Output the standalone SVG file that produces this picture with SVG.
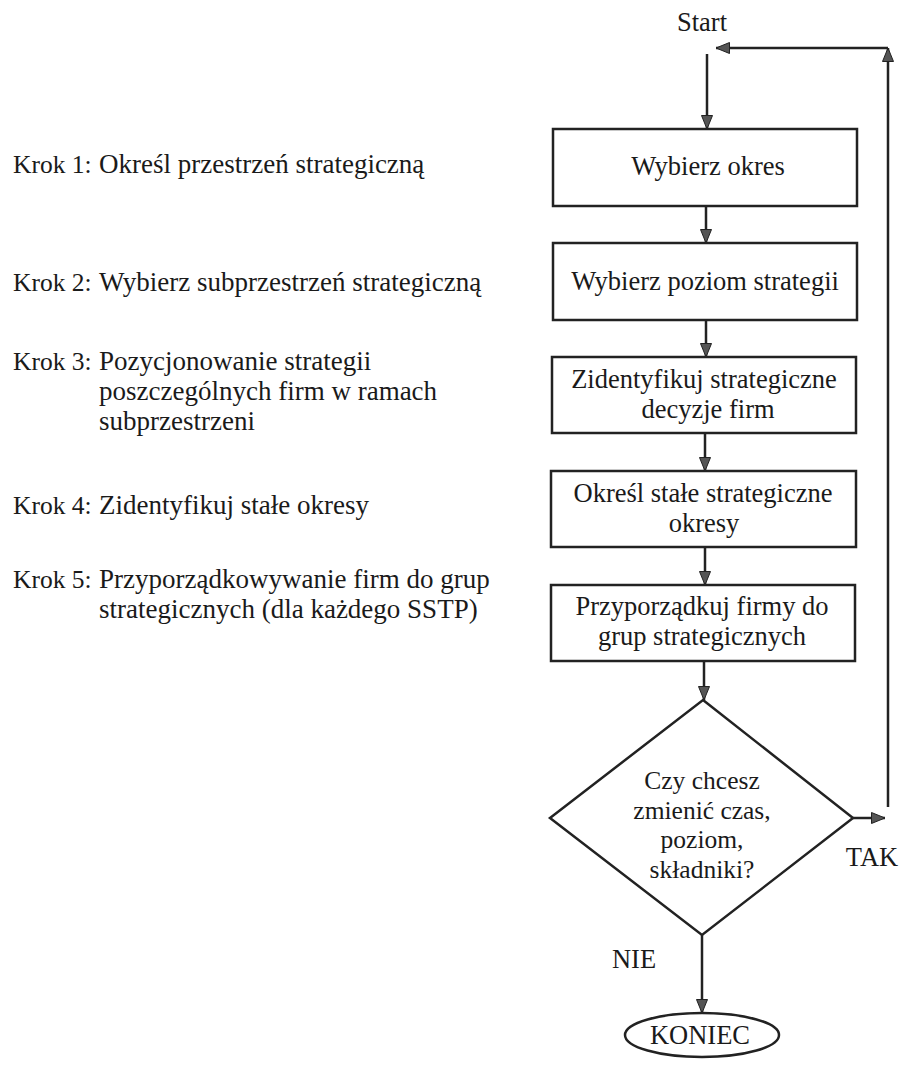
<svg xmlns="http://www.w3.org/2000/svg" width="899" height="1066" viewBox="0 0 899 1066">
<style>
  text { font-family: "Liberation Serif", "Times New Roman", serif; fill: #1a1a1a; }
  .lbl { font-size: 27px; }
  .kr { font-size: 25.5px; }
  .nt { font-size: 26.5px; text-anchor: middle; }
  .dt { font-size: 25.5px; text-anchor: middle; }
  .box { fill: #fff; stroke: #222; stroke-width: 2.5; }
  .conn { fill: none; stroke: #222; stroke-width: 2.5; }
</style>
<defs>
  <marker id="ah" viewBox="0 0 15 12" refX="14" refY="6" markerWidth="15" markerHeight="12" markerUnits="userSpaceOnUse" orient="auto">
    <path d="M0.5,0.5 L14,6 L0.5,11.5 Z" fill="#555" stroke="#222" stroke-width="1"/>
  </marker>
</defs>
<rect width="899" height="1066" fill="#fff"/>

<g id="steps">
  <text class="kr" x="13" y="173">Krok 1:</text>
  <text class="lbl" x="99" y="173">Określ przestrzeń strategiczną</text>
  <text class="kr" x="13" y="291">Krok 2:</text>
  <text class="lbl" x="99" y="291">Wybierz subprzestrzeń strategiczną</text>
  <text class="kr" x="13" y="370">Krok 3:</text>
  <text class="lbl" x="99" y="370">Pozycjonowanie strategii</text>
  <text class="lbl" x="99" y="400">poszczególnych firm w ramach</text>
  <text class="lbl" x="99" y="430">subprzestrzeni</text>
  <text class="kr" x="13" y="514">Krok 4:</text>
  <text class="lbl" x="99" y="514">Zidentyfikuj stałe okresy</text>
  <text class="kr" x="13" y="588">Krok 5:</text>
  <text class="lbl" x="99" y="588">Przyporządkowywanie firm do grup</text>
  <text class="lbl" x="99" y="618">strategicznych (dla każdego SSTP)</text>
</g>

<g id="start">
  <text class="nt" x="702" y="31">Start</text>
</g>

<g id="box1">
  <rect class="box" x="553" y="129" width="304" height="77"/>
  <text class="nt" x="708" y="175">Wybierz okres</text>
</g>
<g id="box2">
  <rect class="box" x="553" y="243" width="304" height="77"/>
  <text class="nt" x="705" y="290">Wybierz poziom strategii</text>
</g>
<g id="box3">
  <rect class="box" x="552" y="357" width="304" height="76"/>
  <text class="nt" x="704" y="388">Zidentyfikuj strategiczne</text>
  <text class="nt" x="708" y="418">decyzje firm</text>
</g>
<g id="box4">
  <rect class="box" x="551" y="471" width="305" height="76"/>
  <text class="nt" x="703" y="502">Określ stałe strategiczne</text>
  <text class="nt" x="704" y="532">okresy</text>
</g>
<g id="box5">
  <rect class="box" x="551" y="585" width="304" height="76"/>
  <text class="nt" x="702" y="615">Przyporządkuj firmy do</text>
  <text class="nt" x="702" y="645">grup strategicznych</text>
</g>

<g id="decision">
  <polygon class="box" points="703,700 853,818 702,935 550,818"/>
  <text class="dt" x="702" y="789">Czy chcesz</text>
  <text class="dt" x="702" y="818.5">zmienić czas,</text>
  <text class="dt" x="702" y="848">poziom,</text>
  <text class="dt" x="702" y="877.5">składniki?</text>
</g>

<g id="end">
  <ellipse class="box" cx="702" cy="1035" rx="77" ry="22"/>
  <text class="nt" x="700" y="1044">KONIEC</text>
</g>

<g id="labels">
  <text class="nt" x="872" y="866">TAK</text>
  <text class="nt" x="634" y="968">NIE</text>
</g>

<g id="connectors">
  <path class="conn" d="M707,54 V129" marker-end="url(#ah)"/>
  <path class="conn" d="M706,206 V243" marker-end="url(#ah)"/>
  <path class="conn" d="M706,320 V357" marker-end="url(#ah)"/>
  <path class="conn" d="M705,433 V471" marker-end="url(#ah)"/>
  <path class="conn" d="M705,547 V585" marker-end="url(#ah)"/>
  <path class="conn" d="M704,661 V700" marker-end="url(#ah)"/>
  <path class="conn" d="M702,935 V1013" marker-end="url(#ah)"/>
  <path class="conn" d="M853,818 H885" marker-end="url(#ah)"/>
  <path class="conn" d="M888,807 V48" marker-end="url(#ah)"/>
  <path class="conn" d="M888,48 H716" marker-end="url(#ah)"/>
</g>
</svg>
